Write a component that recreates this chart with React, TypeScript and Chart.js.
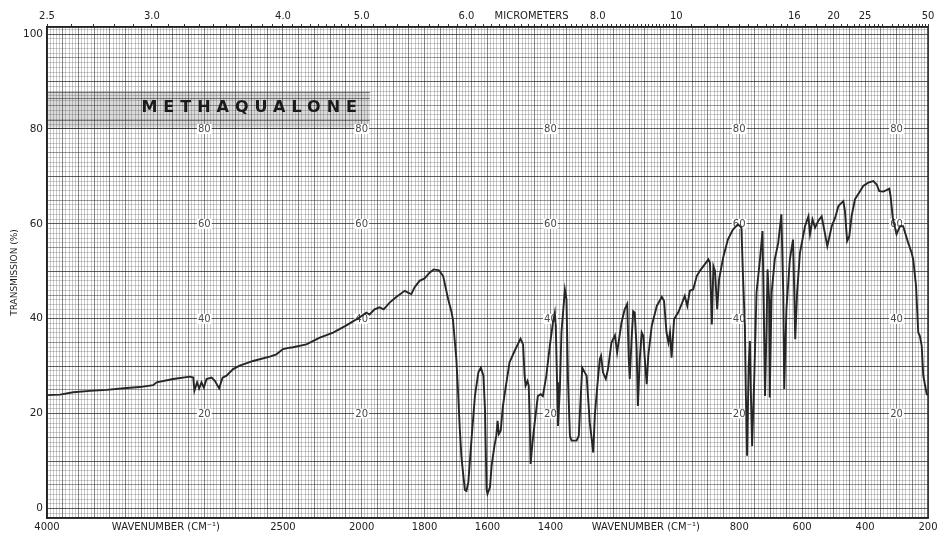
import React, { useEffect, useRef } from 'react';
import { Chart, registerables } from 'chart.js';

Chart.register(...registerables);

// ---- Data (wavenumber in cm^-1, transmission in %) ----
const wavenumbers = [
  4000, 3917, 3833, 3727, 3621, 3494, 3410, 3325, 3303, 3198, 3092, 3070, 3063, 3046, 3033, 3018, 3003, 2986,
  2954, 2933, 2906, 2884, 2859, 2817, 2775, 2690, 2584, 2542, 2500, 2457, 2436, 2351, 2266, 2181, 2097, 2013,
  1985, 1975, 1959, 1943, 1930, 1911, 1890, 1863, 1853, 1842, 1832, 1816, 1800, 1784, 1771, 1754, 1741, 1725,
  1715, 1710, 1699, 1694, 1688, 1683, 1680, 1672, 1667, 1661, 1650, 1640, 1629, 1621, 1613, 1608, 1603, 1600,
  1592, 1587, 1578, 1572, 1568, 1564, 1558, 1551, 1543, 1530, 1514, 1495, 1487, 1482, 1479, 1473, 1469, 1466,
  1463, 1457, 1450, 1440, 1431, 1424, 1413, 1402, 1392, 1386, 1383, 1379, 1376, 1370, 1365, 1354, 1349, 1344,
  1338, 1333, 1317, 1310, 1304, 1299, 1291, 1285, 1280, 1275, 1270, 1264, 1259, 1250, 1243, 1239, 1233, 1224,
  1217, 1206, 1195, 1188, 1185, 1174, 1164, 1156, 1151, 1148, 1142, 1137, 1132, 1126, 1122, 1116, 1110, 1105,
  1100, 1094, 1089, 1078, 1062, 1046, 1039, 1031, 1025, 1020, 1015, 1007, 1001, 994, 983, 973, 965, 957, 946,
  935, 925, 909, 898, 893, 887, 882, 877, 870, 864, 851, 836, 820, 804, 793, 788, 782, 779, 775, 770, 766, 763,
  759, 752, 745, 734, 726, 722, 718, 713, 710, 705, 703, 697, 687, 676, 666, 660, 657, 650, 639, 629, 625, 622,
  616, 607, 591, 580, 575, 567, 559, 549, 538, 527, 520, 506, 495, 485, 480, 469, 464, 457, 450, 443, 432, 416,
  406, 390, 374, 363, 355, 342, 332, 323, 319, 312, 305, 300, 289, 279, 263, 252, 247, 238, 231, 226, 220, 215,
  204, 200,
];

const transmission = [
  23.9, 24.0, 24.5, 24.8, 25.0, 25.4, 25.6, 26.0, 26.6, 27.3, 27.8, 27.6, 24.8, 26.6, 25.3, 26.6, 25.5, 27.3,
  27.6, 26.9, 25.3, 27.6, 28.0, 29.4, 30.1, 31.1, 32.0, 32.5, 33.6, 33.9, 34.0, 34.6, 36.0, 37.1, 38.6, 40.3,
  41.3, 40.9, 42.0, 42.4, 42.0, 43.4, 44.6, 45.9, 45.5, 45.2, 46.6, 48.0, 48.5, 49.7, 50.4, 50.2, 49.0, 44.1,
  41.6, 39.9, 31.5, 25.2, 16.7, 11.1, 9.0, 3.9, 3.7, 5.5, 15.3, 23.7, 28.7, 29.7, 28.0, 20.9, 4.1, 3.1,
  4.5, 9.0, 13.2, 15.3, 18.5, 15.7, 16.4, 21.6, 25.2, 30.8, 33.2, 35.8, 34.6, 28.0, 25.9, 26.9, 25.9, 19.5,
  9.4, 13.9, 18.1, 23.7, 24.1, 23.7, 28.0, 34.3, 39.2, 41.3, 38.5, 26.6, 17.4, 25.2, 37.1, 46.1, 44.1, 26.6,
  15.3, 14.3, 14.3, 15.3, 23.1, 29.7, 28.7, 28.0, 23.1, 18.1, 15.3, 11.8, 19.5, 26.6, 31.5, 32.2, 28.7, 27.3,
  29.4, 35.0, 36.5, 32.9, 34.3, 39.2, 42.0, 43.1, 31.5, 27.3, 35.7, 41.6, 41.3, 33.6, 21.6, 31.5, 37.1, 36.4,
  31.5, 26.2, 32.2, 38.5, 42.7, 44.6, 43.8, 37.1, 35.0, 37.1, 31.8, 39.9, 40.6, 41.3, 43.1, 44.8, 42.7, 45.9, 46.2,
  49.0, 50.1, 51.5, 52.5, 51.8, 38.8, 51.1, 50.1, 42.0, 48.3, 52.9, 56.7, 58.8, 59.9, 59.2, 49.0, 38.5, 24.5, 11.1, 30.1, 35.3, 24.5,
  13.2, 28.0, 45.5, 52.5, 58.5, 42.0, 23.7, 38.5, 50.4, 44.1, 23.4, 45.5, 52.5, 56.0, 62.0, 45.5, 25.2, 42.0, 52.5, 56.7, 45.5, 35.7,
  45.5, 53.9, 59.5, 61.6, 57.8, 60.9, 59.2, 60.6, 61.6, 57.8, 55.3, 59.5, 61.3, 63.7, 64.1, 64.8, 62.7, 56.4, 57.4, 61.6, 65.2, 66.9,
  68.0, 68.7, 69.0, 68.3, 66.9, 66.8, 67.1, 67.4, 65.9, 61.3, 59.2, 57.8, 59.5, 59.5, 56.0, 53.9, 52.5, 46.9, 37.1, 36.4, 34.3, 28.0,
  24.1, 24.0,
];

// ---- Axis labels ----
const yTickLabels = [0, 20, 40, 60, 80, 100];
const bottomTickWavenumbers = [4000, 2500, 2000, 1800, 1600, 1400, 800, 600, 400, 200];
const bottomTitleWavenumbers = [3244, 1097];
const bottomTitleText = 'WAVENUMBER (CM\u207B\u00B9)';
const micrometerTicks = [2.5, 3.0, 4.0, 5.0, 6.0, 8.0, 10, 16, 20, 25, 50];
const micrometerTickText = ['2.5', '3.0', '4.0', '5.0', '6.0', '8.0', '10', '16', '20', '25', '50'];
const micrometerTitlePos = 6.85;
const micrometerTitleText = 'MICROMETERS';
const innerLabelWavenumbers = [3000, 2000, 1400, 800, 300];
const innerLabelValues = [20, 40, 60, 80];
const compoundName = 'METHAQUALONE';
const yAxisTitle = 'TRANSMISSION (%)';

// Perkin-Elmer style chart: 4000-2000 at half the scale of 2000-200
function toU(w: number): number {
  return w >= 2000 ? (4000 - w) / 2 : 1000 + (2000 - w);
}
const key = (v: number) => (Math.round(v * 100) / 100).toFixed(2);

const FONT = 'DejaVu Sans';

export default function App() {
  const ref = useRef<HTMLCanvasElement | null>(null);

  useEffect(() => {
    document.body.style.margin = '0';
    const canvas = ref.current!;

    const points = wavenumbers.map((w, i) => ({ x: toU(w), y: transmission[i] }));

    // bottom ticks: grid every 10 u plus labels
    const bottomLabels = new Map<string, string>();
    bottomTickWavenumbers.forEach((w) => bottomLabels.set(key(toU(w)), String(w)));
    bottomTitleWavenumbers.forEach((w) => bottomLabels.set(key(toU(w)), bottomTitleText));
    const gridSet = new Set<string>();
    const xTickVals: number[] = [];
    for (let u = 0; u <= 2800; u += 10) {
      xTickVals.push(u);
      gridSet.add(key(u));
    }
    bottomTitleWavenumbers.forEach((w) => xTickVals.push(toU(w)));
    xTickVals.sort((a, b) => a - b);

    // top ticks: micrometers
    const topLabels = new Map<string, string>();
    const topVals: number[] = [];
    micrometerTicks.forEach((m, i) => {
      const u = toU(10000 / m);
      topLabels.set(key(u), micrometerTickText[i]);
      topVals.push(u);
    });
    const minorMic: number[] = [];
    for (let m = 2.6; m < 10; m += 0.1) minorMic.push(Math.round(m * 10) / 10);
    for (let m = 10.5; m < 16; m += 0.5) minorMic.push(m);
    for (let m = 17; m < 30; m += 1) minorMic.push(m);
    for (let m = 32; m < 50; m += 2) minorMic.push(m);
    minorMic.forEach((m) => {
      if (!micrometerTicks.includes(m)) topVals.push(toU(10000 / m));
    });
    const titleU = toU(10000 / micrometerTitlePos);
    topLabels.set(key(titleU), micrometerTitleText);
    topVals.push(titleU);
    topVals.sort((a, b) => a - b);
    const titleKey = key(titleU);

    const yVals: number[] = [];
    for (let v = -2; v <= 101; v += 1) yVals.push(v);

    const decor = {
      id: 'decor',
      beforeDatasetsDraw(chart: any) {
        const { ctx, chartArea } = chart;
        const xs = chart.scales.x;
        const ys = chart.scales.y;
        ctx.save();
        ctx.beginPath();
        ctx.rect(chartArea.left, chartArea.top, chartArea.right - chartArea.left, chartArea.bottom - chartArea.top);
        ctx.clip();
        // title box
        const bx0 = xs.getPixelForValue(0);
        const bx1 = xs.getPixelForValue(toU(1974));
        const by0 = ys.getPixelForValue(87.9);
        const by1 = ys.getPixelForValue(80.3);
        ctx.fillStyle = 'rgba(70,70,70,0.2)';
        ctx.fillRect(bx0, by0, bx1 - bx0, by1 - by0);
        ctx.strokeStyle = 'rgba(30,30,30,0.5)';
        ctx.lineWidth = 1;
        for (const v of [87.9, 86.6, 82.0, 80.3]) {
          const yy = Math.round(ys.getPixelForValue(v)) + 0.5;
          ctx.beginPath();
          ctx.moveTo(bx0, yy);
          ctx.lineTo(bx1, yy);
          ctx.stroke();
        }
        // title text
        ctx.fillStyle = '#1a1a1a';
        ctx.font = `900 16px "${FONT}"`;
        (ctx as any).letterSpacing = '6px';
        ctx.textAlign = 'left';
        ctx.textBaseline = 'middle';
        ctx.fillText(compoundName, xs.getPixelForValue(toU(3400)), ys.getPixelForValue(84.4));
        (ctx as any).letterSpacing = '0px';
        // inner labels
        ctx.font = `10px "${FONT}"`;
        ctx.textAlign = 'center';
        for (const w of innerLabelWavenumbers) {
          for (const v of innerLabelValues) {
            const px = xs.getPixelForValue(toU(w));
            const py = ys.getPixelForValue(v);
            const tw = ctx.measureText(String(v)).width;
            ctx.fillStyle = '#ffffff';
            ctx.fillRect(px - tw / 2 - 1, py - 5, tw + 2, 10);
            ctx.fillStyle = '#4a4a4a';
            ctx.fillText(String(v), px, py + 0.5);
          }
        }
        ctx.restore();
      },
      afterDatasetsDraw(chart: any) {
        const { ctx, chartArea } = chart;
        ctx.save();
        ctx.strokeStyle = '#222';
        ctx.lineWidth = 1.5;
        ctx.strokeRect(chartArea.left, chartArea.top, chartArea.right - chartArea.left, chartArea.bottom - chartArea.top);
        ctx.restore();
      },
    };

    const chart = new Chart(canvas, {
      type: 'line',
      data: {
        datasets: [
          {
            data: points,
            borderColor: '#262626',
            borderWidth: 1.9,
            pointRadius: 0,
            tension: 0,
            fill: false,
            xAxisID: 'x',
            yAxisID: 'y',
          },
        ],
      },
      options: {
        animation: false,
        responsive: false,
        maintainAspectRatio: false,
        devicePixelRatio: 1,
        layout: { padding: { left: 0, right: 13, top: 0, bottom: 0 } },
        plugins: { legend: { display: false }, tooltip: { enabled: false }, title: { display: false } },
        scales: {
          x: {
            type: 'linear',
            position: 'bottom',
            min: 0,
            max: 2800,
            afterBuildTicks: (s: any) => {
              s.ticks = xTickVals.map((v) => ({ value: v }));
            },
            afterFit: (s: any) => {
              s.height = 16;
            },
            ticks: {
              autoSkip: false,
              maxRotation: 0,
              minRotation: 0,
              padding: 3,
              color: '#222',
              font: { family: FONT, size: 10 },
              callback: (v: any) => bottomLabels.get(key(Number(v))) ?? '',
            },
            grid: {
              drawTicks: false,
              lineWidth: 1,
              color: (c: any) => {
                const v = c.tick ? c.tick.value : 0;
                if (!gridSet.has(key(v))) return 'rgba(0,0,0,0)';
                return Math.round(v) % 50 === 0 ? 'rgba(25,25,25,0.52)' : 'rgba(60,60,60,0.27)';
              },
            },
            border: { display: true, color: '#222', width: 1.5 },
          },
          x2: {
            type: 'linear',
            position: 'top',
            min: 0,
            max: 2800,
            afterBuildTicks: (s: any) => {
              s.ticks = topVals.map((v) => ({ value: v }));
            },
            afterFit: (s: any) => {
              s.height = 27;
            },
            ticks: {
              autoSkip: false,
              maxRotation: 0,
              minRotation: 0,
              padding: 2,
              color: '#222',
              font: { family: FONT, size: 10 },
              callback: (v: any) => topLabels.get(key(Number(v))) ?? '',
            },
            grid: {
              drawOnChartArea: false,
              drawTicks: true,
              tickLength: 3,
              color: (c: any) => (c.tick && key(c.tick.value) === titleKey ? 'rgba(0,0,0,0)' : '#333'),
            },
            border: { display: true, color: '#222', width: 1.5 },
          },
          y: {
            type: 'linear',
            position: 'left',
            min: -2,
            max: 101.5,
            afterBuildTicks: (s: any) => {
              s.ticks = yVals.map((v) => ({ value: v }));
            },
            afterFit: (s: any) => {
              s.width = 47;
            },
            ticks: {
              autoSkip: false,
              padding: 4,
              color: '#222',
              font: { family: FONT, size: 10.5 },
              callback: (v: any) => (yTickLabels.includes(Number(v)) ? String(v) : ''),
            },
            grid: {
              drawTicks: false,
              lineWidth: 1,
              color: (c: any) => {
                const v = c.tick ? Math.round(c.tick.value) : 0;
                if (v % 10 === 0) return 'rgba(20,20,20,0.68)';
                if (v % 5 === 0) return 'rgba(35,35,35,0.45)';
                return 'rgba(60,60,60,0.25)';
              },
            },
            border: { display: true, color: '#222', width: 1.5 },
            title: {
              display: true,
              text: yAxisTitle,
              color: '#222',
              font: { family: FONT, size: 9 },
              padding: { top: 9, bottom: 0 },
            },
          },
        },
      },
      plugins: [decor],
    } as any);

    return () => chart.destroy();
  }, []);

  return (
    <div style={{ width: 941, height: 534, position: 'relative', background: '#fff' }}>
      <canvas ref={ref} width={941} height={534} style={{ width: 941, height: 534, display: 'block' }} />
    </div>
  );
}
